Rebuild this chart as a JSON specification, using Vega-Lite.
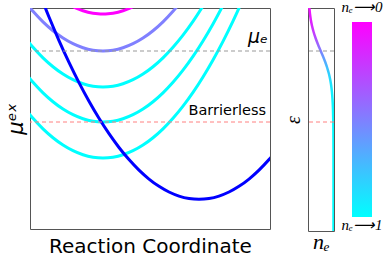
{
  "$schema": "https://vega.github.io/schema/vega-lite/v6.json",
  "padding": {"left": 4, "top": 0, "right": 0, "bottom": 0},
  "background": "white",
  "config": {
    "view": {"stroke": "#555555", "strokeWidth": 1},
    "axis": {"domain": false, "ticks": false, "labels": false, "grid": false, "titleColor": "black", "titleFontWeight": "normal"}
  },
  "datasets": {
    "one": [{}],
    "curves": [
      {"curve": "c1", "x": -7, "y": 122.84}, {"curve": "c1", "x": 3, "y": 110.69}, {"curve": "c1", "x": 13, "y": 100.16}, {"curve": "c1", "x": 23, "y": 91.25}, {"curve": "c1", "x": 33, "y": 83.96}, {"curve": "c1", "x": 43, "y": 78.29}, {"curve": "c1", "x": 53, "y": 74.24}, {"curve": "c1", "x": 63, "y": 71.81}, {"curve": "c1", "x": 73, "y": 71}, {"curve": "c1", "x": 83, "y": 71.81}, {"curve": "c1", "x": 93, "y": 74.24}, {"curve": "c1", "x": 103, "y": 78.29}, {"curve": "c1", "x": 113, "y": 83.96}, {"curve": "c1", "x": 123, "y": 91.25}, {"curve": "c1", "x": 133, "y": 100.16}, {"curve": "c1", "x": 143, "y": 110.69}, {"curve": "c1", "x": 153, "y": 122.84}, {"curve": "c1", "x": 163, "y": 136.61}, {"curve": "c1", "x": 173, "y": 152}, {"curve": "c1", "x": 183, "y": 169.01}, {"curve": "c1", "x": 193, "y": 187.64}, {"curve": "c1", "x": 203, "y": 207.89}, {"curve": "c1", "x": 213, "y": 229.76},
      {"curve": "c2", "x": -7, "y": 158.84}, {"curve": "c2", "x": 3, "y": 146.69}, {"curve": "c2", "x": 13, "y": 136.16}, {"curve": "c2", "x": 23, "y": 127.25}, {"curve": "c2", "x": 33, "y": 119.96}, {"curve": "c2", "x": 43, "y": 114.29}, {"curve": "c2", "x": 53, "y": 110.24}, {"curve": "c2", "x": 63, "y": 107.81}, {"curve": "c2", "x": 73, "y": 107}, {"curve": "c2", "x": 83, "y": 107.81}, {"curve": "c2", "x": 93, "y": 110.24}, {"curve": "c2", "x": 103, "y": 114.29}, {"curve": "c2", "x": 113, "y": 119.96}, {"curve": "c2", "x": 123, "y": 127.25}, {"curve": "c2", "x": 133, "y": 136.16}, {"curve": "c2", "x": 143, "y": 146.69}, {"curve": "c2", "x": 153, "y": 158.84}, {"curve": "c2", "x": 163, "y": 172.61}, {"curve": "c2", "x": 173, "y": 188}, {"curve": "c2", "x": 183, "y": 205.01}, {"curve": "c2", "x": 193, "y": 223.64},
      {"curve": "c3", "x": -7, "y": 193.84}, {"curve": "c3", "x": 3, "y": 181.69}, {"curve": "c3", "x": 13, "y": 171.16}, {"curve": "c3", "x": 23, "y": 162.25}, {"curve": "c3", "x": 33, "y": 154.96}, {"curve": "c3", "x": 43, "y": 149.29}, {"curve": "c3", "x": 53, "y": 145.24}, {"curve": "c3", "x": 63, "y": 142.81}, {"curve": "c3", "x": 73, "y": 142}, {"curve": "c3", "x": 83, "y": 142.81}, {"curve": "c3", "x": 93, "y": 145.24}, {"curve": "c3", "x": 103, "y": 149.29}, {"curve": "c3", "x": 113, "y": 154.96}, {"curve": "c3", "x": 123, "y": 162.25}, {"curve": "c3", "x": 133, "y": 171.16}, {"curve": "c3", "x": 143, "y": 181.69}, {"curve": "c3", "x": 153, "y": 193.84}, {"curve": "c3", "x": 163, "y": 207.61}, {"curve": "c3", "x": 173, "y": 223},
      {"curve": "lav", "x": -7, "y": 229.84}, {"curve": "lav", "x": 3, "y": 217.69}, {"curve": "lav", "x": 13, "y": 207.16}, {"curve": "lav", "x": 23, "y": 198.25}, {"curve": "lav", "x": 33, "y": 190.96}, {"curve": "lav", "x": 43, "y": 185.29}, {"curve": "lav", "x": 53, "y": 181.24}, {"curve": "lav", "x": 63, "y": 178.81}, {"curve": "lav", "x": 73, "y": 178}, {"curve": "lav", "x": 83, "y": 178.81}, {"curve": "lav", "x": 93, "y": 181.24}, {"curve": "lav", "x": 103, "y": 185.29}, {"curve": "lav", "x": 113, "y": 190.96}, {"curve": "lav", "x": 123, "y": 198.25}, {"curve": "lav", "x": 133, "y": 207.16}, {"curve": "lav", "x": 143, "y": 217.69}, {"curve": "lav", "x": 153, "y": 229.84},
      {"curve": "mag", "x": 38, "y": 224.92}, {"curve": "mag", "x": 43, "y": 222.29}, {"curve": "mag", "x": 48, "y": 220.06}, {"curve": "mag", "x": 53, "y": 218.24}, {"curve": "mag", "x": 58, "y": 216.82}, {"curve": "mag", "x": 63, "y": 215.81}, {"curve": "mag", "x": 68, "y": 215.2}, {"curve": "mag", "x": 73, "y": 215}, {"curve": "mag", "x": 78, "y": 215.2}, {"curve": "mag", "x": 83, "y": 215.81}, {"curve": "mag", "x": 88, "y": 216.82}, {"curve": "mag", "x": 93, "y": 218.24}, {"curve": "mag", "x": 98, "y": 220.06}, {"curve": "mag", "x": 103, "y": 222.29}, {"curve": "mag", "x": 108, "y": 224.92},
      {"curve": "blue", "x": 9, "y": 237.06}, {"curve": "blue", "x": 19, "y": 211.95}, {"curve": "blue", "x": 29, "y": 188.46}, {"curve": "blue", "x": 39, "y": 166.59}, {"curve": "blue", "x": 49, "y": 146.34}, {"curve": "blue", "x": 59, "y": 127.71}, {"curve": "blue", "x": 69, "y": 110.7}, {"curve": "blue", "x": 79, "y": 95.31}, {"curve": "blue", "x": 89, "y": 81.54}, {"curve": "blue", "x": 99, "y": 69.39}, {"curve": "blue", "x": 109, "y": 58.86}, {"curve": "blue", "x": 119, "y": 49.95}, {"curve": "blue", "x": 129, "y": 42.66}, {"curve": "blue", "x": 139, "y": 36.99}, {"curve": "blue", "x": 149, "y": 32.94}, {"curve": "blue", "x": 159, "y": 30.51}, {"curve": "blue", "x": 169, "y": 29.7}, {"curve": "blue", "x": 179, "y": 30.51}, {"curve": "blue", "x": 189, "y": 32.94}, {"curve": "blue", "x": 199, "y": 36.99}, {"curve": "blue", "x": 209, "y": 42.66}, {"curve": "blue", "x": 219, "y": 49.95}, {"curve": "blue", "x": 229, "y": 58.86}, {"curve": "blue", "x": 239, "y": 69.39}, {"curve": "blue", "x": 249, "y": 81.54}
    ],
    "fermi": [
      {"e": 221, "n": 0.054}, {"e": 215, "n": 0.078}, {"e": 209, "n": 0.112}, {"e": 203, "n": 0.159}, {"e": 197, "n": 0.22}, {"e": 191, "n": 0.296}, {"e": 185, "n": 0.385}, {"e": 179, "n": 0.483}, {"e": 173, "n": 0.583}, {"e": 167, "n": 0.676}, {"e": 161, "n": 0.756}, {"e": 155, "n": 0.823}, {"e": 149, "n": 0.874}, {"e": 143, "n": 0.912}, {"e": 137, "n": 0.939}, {"e": 131, "n": 0.958}, {"e": 125, "n": 0.972}, {"e": 119, "n": 0.981}, {"e": 110, "n": 0.989}, {"e": 100, "n": 0.995}, {"e": 80, "n": 0.999}, {"e": 50, "n": 1.0}, {"e": -2, "n": 1.0}
    ]
  },
  "bounds": "flush",
  "spacing": 38,
  "hconcat": [
    {
      "width": 240,
      "height": 221,
      "layer": [
        {
          "data": {"name": "curves"},
          "transform": [{"filter": "datum.curve != 'blue'"}],
          "mark": {"type": "line", "clip": true, "strokeWidth": 3, "interpolate": "monotone"},
          "encoding": {
            "x": {"field": "x", "type": "quantitative", "scale": {"domain": [0, 240], "nice": false, "zero": false}, "axis": {"title": "Reaction Coordinate", "titleFont": "DejaVu Sans", "titleFontSize": 20, "titlePadding": 7}},
            "y": {"field": "y", "type": "quantitative", "scale": {"domain": [0, 221], "nice": false, "zero": false}, "axis": {"title": "μᵉˣ", "titleFont": "DejaVu Sans", "titleFontSize": 21, "titleFontStyle": "italic", "titlePadding": 4}},
            "color": {"field": "curve", "type": "nominal", "scale": {"domain": ["c1", "c2", "c3", "lav", "mag"], "range": ["#00ffff", "#00ffff", "#00ffff", "#8080ff", "#ff00ff"]}, "legend": null}
          }
        },
        {
          "data": {"name": "curves"},
          "transform": [{"filter": "datum.curve == 'blue'"}],
          "mark": {"type": "line", "clip": true, "strokeWidth": 3, "interpolate": "monotone", "color": "#0000ff"},
          "encoding": {
            "x": {"field": "x", "type": "quantitative"},
            "y": {"field": "y", "type": "quantitative"}
          }
        },
        {
          "data": {"name": "one"},
          "mark": {"type": "rule", "color": "#999999", "strokeWidth": 1, "strokeDash": [4, 3]},
          "encoding": {"y": {"datum": 178}}
        },
        {
          "data": {"name": "one"},
          "mark": {"type": "rule", "color": "#ff8080", "strokeWidth": 1, "strokeDash": [4, 3]},
          "encoding": {"y": {"datum": 107}}
        },
        {
          "data": {"name": "one"},
          "mark": {"type": "text", "text": "μₑ", "align": "right", "baseline": "alphabetic", "font": "DejaVu Sans", "fontSize": 19, "fontStyle": "italic", "color": "black"},
          "encoding": {"x": {"datum": 238}, "y": {"datum": 186}}
        },
        {
          "data": {"name": "one"},
          "mark": {"type": "text", "text": "Barrierless", "align": "right", "baseline": "alphabetic", "font": "DejaVu Sans", "fontSize": 14.5, "color": "black"},
          "encoding": {"x": {"datum": 236}, "y": {"datum": 114}}
        }
      ]
    },
    {
      "bounds": "flush",
      "spacing": 18,
      "hconcat": [
        {
          "width": 26,
          "height": 223,
          "layer": [
            {
              "data": {"name": "fermi"},
              "mark": {"type": "line", "clip": true, "strokeWidth": 2.5, "interpolate": "monotone",
                "stroke": {"gradient": "linear", "x1": 0, "y1": 0, "x2": 0, "y2": 1, "stops": [
                  {"offset": 0, "color": "#f10eff"}, {"offset": 0.054, "color": "#e21dff"}, {"offset": 0.108, "color": "#c738ff"}, {"offset": 0.161, "color": "#9d62ff"}, {"offset": 0.215, "color": "#6a95ff"}, {"offset": 0.269, "color": "#3ec1ff"}, {"offset": 0.323, "color": "#20dfff"}, {"offset": 0.377, "color": "#10efff"}, {"offset": 0.457, "color": "#05faff"}, {"offset": 1, "color": "#00ffff"}]}},
              "encoding": {
                "x": {"field": "n", "type": "quantitative", "scale": {"domain": [0, 1.02], "nice": false, "zero": false}, "axis": {"title": "nₑ", "titleFont": "Liberation Serif", "titleFontSize": 22, "titleFontStyle": "italic", "titlePadding": 0}},
                "y": {"field": "e", "type": "quantitative", "scale": {"domain": [-2, 221], "nice": false, "zero": false}, "axis": {"title": "ε", "titleFont": "Liberation Serif", "titleFontSize": 20, "titleFontStyle": "italic", "titlePadding": 5}},
                "order": {"field": "e", "type": "quantitative"}
              }
            },
            {
              "data": {"name": "one"},
              "mark": {"type": "rule", "color": "#999999", "strokeWidth": 1, "strokeDash": [4, 3]},
              "encoding": {"y": {"datum": 178}}
            },
            {
              "data": {"name": "one"},
              "mark": {"type": "rule", "color": "#ff8080", "strokeWidth": 1, "strokeDash": [4, 3]},
              "encoding": {"y": {"datum": 107}}
            }
          ]
        },
        {
          "width": 20,
          "height": 223,
          "view": {"stroke": null},
          "data": {"name": "one"},
          "layer": [
            {
              "mark": {"type": "rect", "fill": {"gradient": "linear", "x1": 0, "y1": 0, "x2": 0, "y2": 1, "stops": [{"offset": 0, "color": "#ff00ff"}, {"offset": 1, "color": "#00ffff"}]}},
              "encoding": {
                "x": {"datum": 0, "scale": {"domain": [0, 1], "nice": false, "zero": false}, "axis": null},
                "x2": {"datum": 1},
                "y": {"datum": 12, "scale": {"domain": [-2, 221], "nice": false, "zero": false}, "axis": null},
                "y2": {"datum": 207}
              }
            },
            {
              "mark": {"type": "text", "text": "nₑ⟶0", "align": "center", "baseline": "alphabetic", "font": "Liberation Serif", "fontSize": 15, "fontStyle": "italic", "color": "black"},
              "encoding": {"x": {"datum": 0.5}, "y": {"datum": 217}}
            },
            {
              "mark": {"type": "text", "text": "nₑ⟶1", "align": "center", "baseline": "alphabetic", "font": "Liberation Serif", "fontSize": 15, "fontStyle": "italic", "color": "black"},
              "encoding": {"x": {"datum": 0.5}, "y": {"datum": -0.5}}
            }
          ]
        }
      ]
    }
  ]
}
